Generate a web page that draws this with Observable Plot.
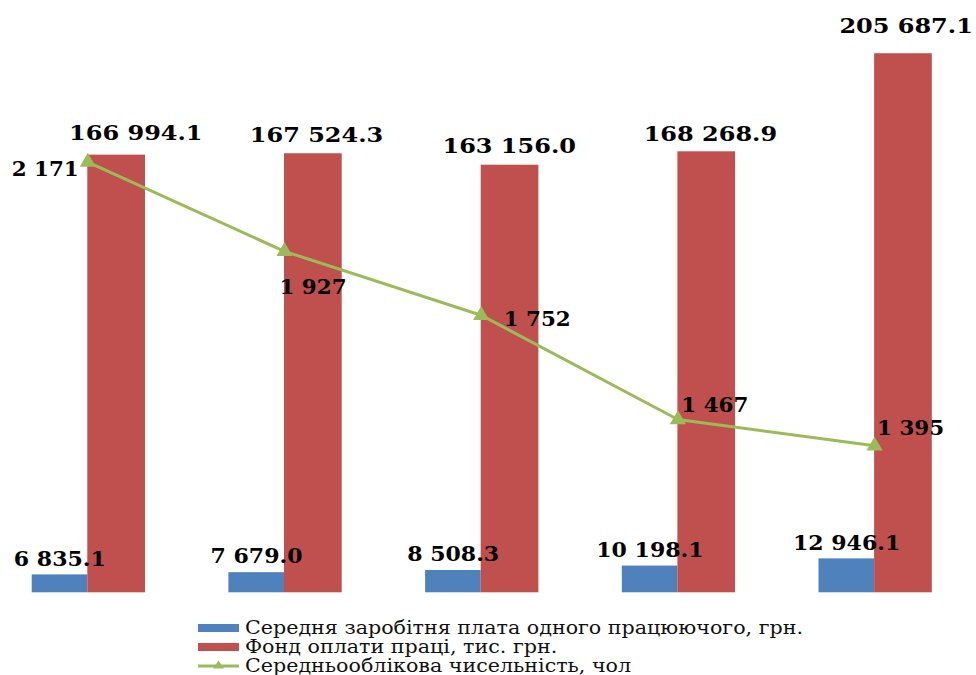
<!DOCTYPE html>
<html>
<head>
<meta charset="utf-8">
<script src="https://cdn.jsdelivr.net/npm/d3@7"></script>
<script src="https://cdn.jsdelivr.net/npm/@observablehq/plot@0.6"></script>
<style>
  html, body { margin: 0; padding: 0; background: #fff; width: 976px; height: 675px; overflow: hidden; }
  #chart { position: absolute; left: 0; top: 0; }
  #legend { position: absolute; left: 198px; top: 618px; font-family: "DejaVu Serif", serif; font-size: 17.8px; color: #111; }
  .row { display: flex; align-items: center; height: 19px; line-height: 19px; white-space: nowrap; }
  .row span { display: inline-block; transform-origin: left center; line-height: 19px; }
  .sw { width: 41px; height: 8px; margin-right: 6px; flex: none; }
  .ln { width: 41px; height: 12px; margin-right: 6px; flex: none; }
</style>
</head>
<body>
<div id="chart"></div>
<div id="legend"></div>
<script>
const periods = ["1", "2", "3", "4", "5"];
const avgWage = [6835.1, 7679.0, 8508.3, 10198.1, 12946.1];
const wageFund = [166994.1, 167524.3, 163156.0, 168268.9, 205687.1];
const headcount = [2171, 1927, 1752, 1467, 1395];
const seriesNames = [
  "Середня заробітня  плата одного працюючого, грн.",
  "Фонд оплати праці, тис. грн.",
  "Середньооблікова чисельність, чол"
];

const BLUE = "#4F81BD", RED = "#C0504D", GREEN = "#9BBB59";
const loc = d3.formatLocale({decimal: ".", thousands: " ", grouping: [3], currency: ["", ""]});
const f1 = loc.format(",.1f");
const f0 = loc.format(",.0f");

const yMax = 226000;
const y2 = d3.scaleLinear().domain([993, 2613]).range([0, yMax]);
const idx = d3.range(periods.length);

// label placement offsets (layout only)
const redLabelOffset = [[19, -21], [3, -17.5], [-1, -18], [3.5, -17], [2.5, -27]];
const lineLabelOffset = [[-9, 7.5, "end"], [28.5, 36.5, "middle"], [56, 4, "middle"], [37, -13.5, "middle"], [36, -17, "middle"]];

const band = 196.7;
const FS = 19.5;
const marks = [
  Plot.barY(idx, {x: i => periods[i], y: i => avgWage[i], fill: BLUE, insetLeft: band/2 - 55.6, insetRight: band/2}),
  Plot.barY(idx, {x: i => periods[i], y: i => wageFund[i], fill: RED, insetLeft: band/2, insetRight: band/2 - 57.7}),
  Plot.text(idx, {x: i => periods[i], y: i => avgWage[i], text: i => f1(avgWage[i]), dx: -28, dy: -15.5, fontWeight: "bold", fontSize: FS, fill: "#000"}),
  Plot.lineY(idx, {x: i => periods[i], y: i => y2(headcount[i]), stroke: GREEN, strokeWidth: 3}),
  Plot.dot(idx, {x: i => periods[i], y: i => y2(headcount[i]), symbol: "triangle", r: 6, fill: GREEN, stroke: null})
];
idx.forEach(i => {
  const [dx, dy] = redLabelOffset[i];
  marks.push(Plot.text([i], {x: j => periods[j], y: j => wageFund[j], text: j => f1(wageFund[j]), dx: 29 + dx, dy, fontWeight: "bold", fontSize: FS, fill: "#000"}));
  const [lx, ly, anchor] = lineLabelOffset[i];
  marks.push(Plot.text([i], {x: j => periods[j], y: j => y2(headcount[j]), text: j => f0(headcount[j]), dx: lx, dy: ly, textAnchor: anchor, fontWeight: "bold", fontSize: FS, fill: "#000"}));
});

const chart = Plot.plot({
  width: 976,
  height: 612,
  marginTop: 0,
  marginBottom: 19.7,
  marginLeft: 0,
  marginRight: 0,
  x: {domain: periods, range: [87.3 - band/2, 87.3 + 4.5 * band], padding: 0, round: false, axis: null},
  y: {domain: [0, yMax], axis: null},
  style: {fontFamily: "'DejaVu Serif', serif", background: "transparent", overflow: "visible"},
  marks
});
document.getElementById("chart").appendChild(chart);

// horizontal stretch of label glyphs (the reference type is wide)
const blueSet = new Set(avgWage.map(f1));
const redSet = new Set(wageFund.map(f1));
const lineSet = new Set(headcount.map(f0));
d3.select(chart).selectAll("text").each(function() {
  const el = this;
  const c = el.textContent;
  const s = blueSet.has(c) ? 1.13 : redSet.has(c) ? 1.23 : lineSet.has(c) ? 1.1 : null;
  if (!s) return;
  const t = el.getAttribute("transform");
  if (t) {
    el.setAttribute("transform", `${t} scale(${s},1)`);
  } else {
    const x = +(el.getAttribute("x") || 0);
    el.removeAttribute("x");
    el.setAttribute("transform", `translate(${x},0) scale(${s},1)`);
  }
});

const legend = document.getElementById("legend");
const colors = [BLUE, RED];
const spans = [];
seriesNames.forEach((name, k) => {
  const row = document.createElement("div");
  row.className = "row";
  if (k < 2) {
    const sw = document.createElement("div");
    sw.className = "sw";
    sw.style.background = colors[k];
    row.appendChild(sw);
  } else {
    const ns = "http://www.w3.org/2000/svg";
    const s = document.createElementNS(ns, "svg");
    s.setAttribute("width", 41); s.setAttribute("height", 12);
    s.setAttribute("class", "ln");
    s.innerHTML = `<line x1="0" x2="41" y1="6" y2="6" stroke="${GREEN}" stroke-width="3"/><path d="M20.5,0.5 L26,8.5 L15,8.5 Z" fill="${GREEN}"/>`;
    row.appendChild(s);
  }
  const t = document.createElement("span");
  t.textContent = name;
  row.appendChild(t);
  legend.appendChild(row);
  spans.push(t);
});
const w0 = spans[0].getBoundingClientRect().width;
const sx = 558 / w0;
spans.forEach(s => s.style.transform = `scaleX(${sx})`);
</script>
</body>
</html>
